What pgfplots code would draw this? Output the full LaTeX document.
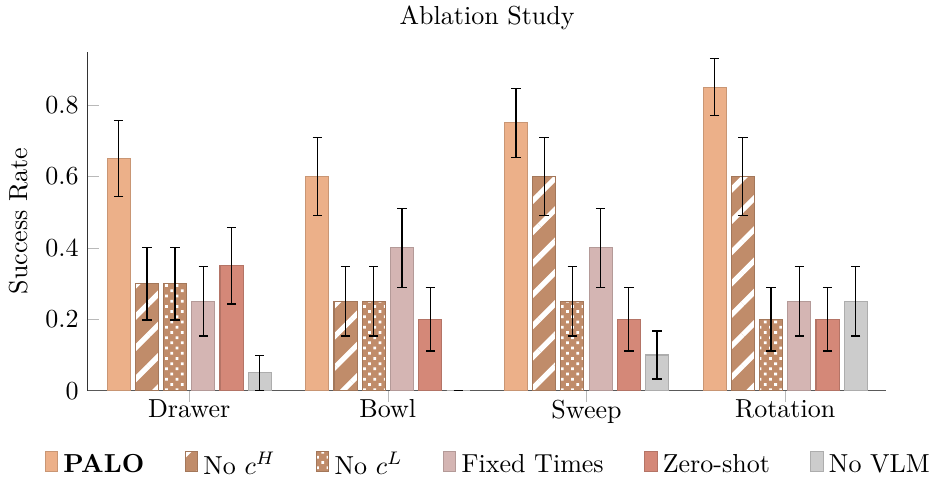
\documentclass[border=0pt]{standalone}
\usepackage{pgfplots}
\pgfplotsset{compat=1.18}
\usetikzlibrary{patterns,patterns.meta}
\definecolor{cpalo}{HTML}{ECB089}
\definecolor{cnoch}{HTML}{C08C6A}
\definecolor{cfixed}{HTML}{D4B5B3}
\definecolor{czero}{HTML}{D48878}
\definecolor{cnovlm}{HTML}{CCCCCC}
\pgfplotsset{
  boxlegend/.style={legend image code/.code={\draw[##1] (0pt,-2.3pt) rectangle (4.8pt,5.4pt);}},
}
\begin{document}
\begin{tikzpicture}
\begin{axis}[
  scale only axis, width=307pt, height=130.4pt,
  ybar=2pt, bar width=8.85pt,
  xmin=-0.51, xmax=3.51, ymin=0, ymax=0.95,
  xtick={0,1,2,3}, xticklabels={Drawer,Bowl,Sweep,Rotation},
  ytick={0,0.2,0.4,0.6,0.8},
  axis x line*=bottom, axis y line*=left,
  x axis line style={-, black!65},
  y axis line style={-, black!80},
  tick style={gray!55},
  tick align=inside,
  xtick style={yshift=-0.15cm},
  title={Ablation Study},
  title style={yshift=0.2pt, inner ysep=2.1pt},
  ylabel={Success Rate},
  legend columns=6,
  legend style={at={(0.5,-0.165)}, anchor=north, draw=none, inner sep=0pt, xshift=1pt,
    /tikz/every even column/.append style={column sep=13.5pt},
    /tikz/column 12/.style={column sep=0pt}},
  error bars/y dir=both, error bars/y explicit,
  error bars/error bar style={black, line width=0.5pt},
  error bars/error mark options={rotate=90, mark size=1.8pt, black, line width=0.5pt},
]
\addplot[boxlegend, fill=cpalo, draw=cpalo!85!black] coordinates {
  (0,0.65) +- (0,0.107)
  (1,0.60) +- (0,0.110)
  (2,0.75) +- (0,0.097)
  (3,0.85) +- (0,0.080)
};
\addplot[boxlegend, fill=cnoch, draw=cnoch!85!black,
  postaction={pattern={Lines[angle=45,distance=8.5pt,line width=2pt]}, pattern color=white}] coordinates {
  (0,0.30) +- (0,0.102)
  (1,0.25) +- (0,0.097)
  (2,0.60) +- (0,0.110)
  (3,0.60) +- (0,0.110)
};
\addplot[boxlegend, fill=cnoch, draw=cnoch!85!black,
  postaction={pattern={Dots[angle=45,distance=2.83pt,radius=0.75pt]}, pattern color=white}] coordinates {
  (0,0.30) +- (0,0.102)
  (1,0.25) +- (0,0.097)
  (2,0.25) +- (0,0.097)
  (3,0.20) +- (0,0.089)
};
\addplot[boxlegend, fill=cfixed, draw=cfixed!85!black] coordinates {
  (0,0.25) +- (0,0.097)
  (1,0.40) +- (0,0.110)
  (2,0.40) +- (0,0.110)
  (3,0.25) +- (0,0.097)
};
\addplot[boxlegend, fill=czero, draw=czero!85!black] coordinates {
  (0,0.35) +- (0,0.107)
  (1,0.20) +- (0,0.089)
  (2,0.20) +- (0,0.089)
  (3,0.20) +- (0,0.089)
};
\addplot[boxlegend, fill=cnovlm, draw=cnovlm!85!black] coordinates {
  (0,0.05) +- (0,0.049)
  (1,0.00) +- (0,0.000)
  (2,0.10) +- (0,0.067)
  (3,0.25) +- (0,0.097)
};
\legend{\textbf{PALO}, No $c^H$, No $c^L$, Fixed Times, Zero-shot, No VLM}
\end{axis}
\end{tikzpicture}
\end{document}
